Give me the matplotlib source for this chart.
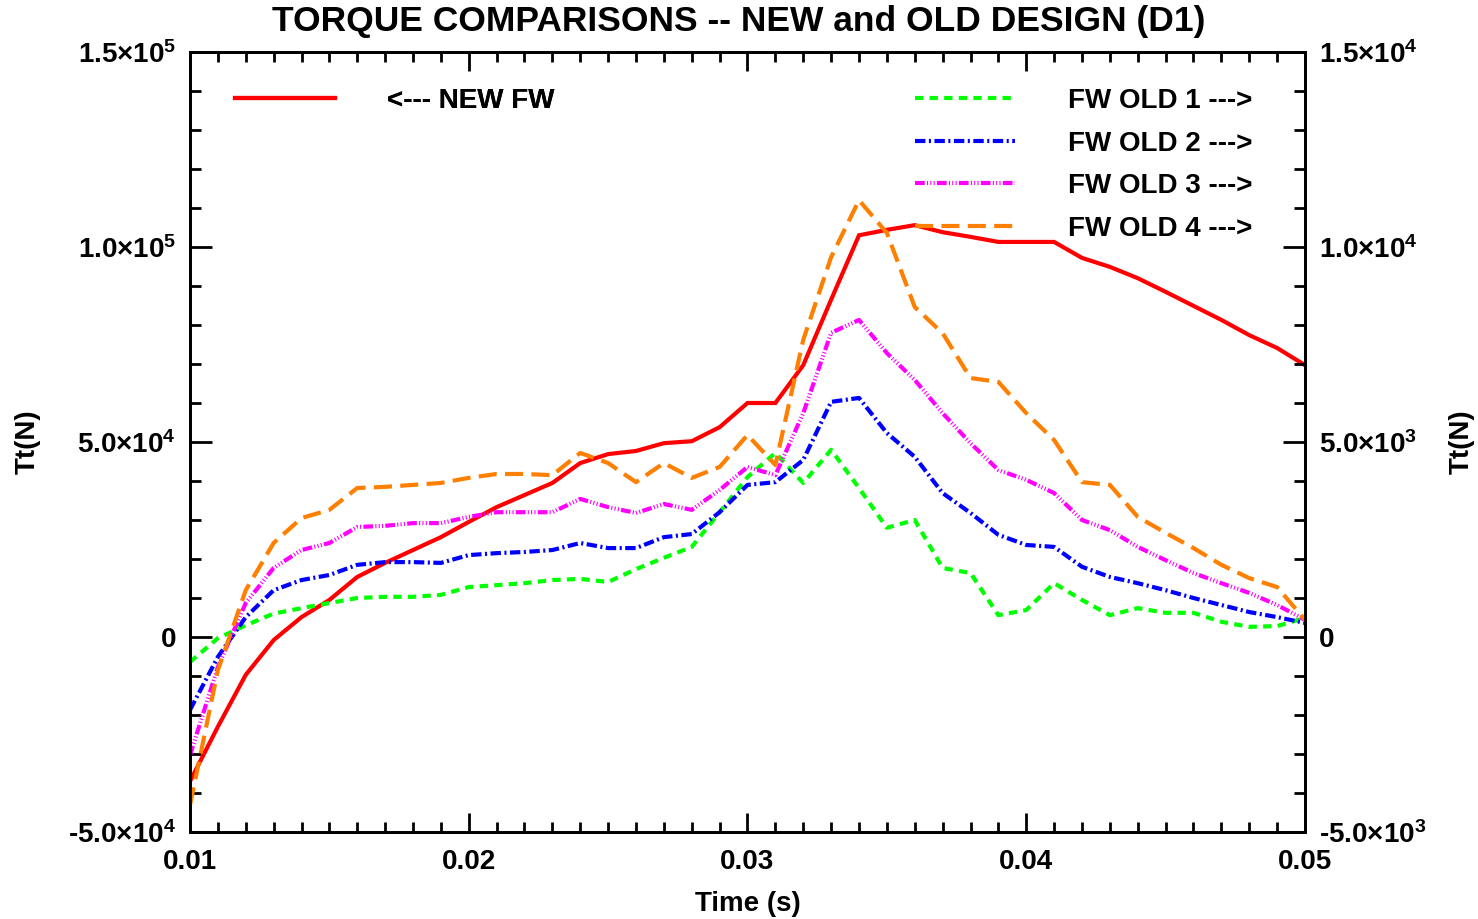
import matplotlib
matplotlib.use("Agg")
import matplotlib.pyplot as plt
from matplotlib.ticker import FixedLocator, MultipleLocator, FixedFormatter

plt.rcParams['font.family'] = ['Liberation Sans', 'DejaVu Sans']
plt.rcParams['font.weight'] = 'bold'
plt.rcParams['mathtext.default'] = 'regular'
plt.rcParams['lines.scale_dashes'] = False

# ---- data ----
time_s = [0.010, 0.011, 0.012, 0.013, 0.014, 0.015, 0.016, 0.017, 0.018, 0.019,
          0.020, 0.021, 0.022, 0.023, 0.024, 0.025, 0.026, 0.027, 0.028, 0.029,
          0.030, 0.031, 0.032, 0.033, 0.034, 0.035, 0.036, 0.037, 0.038, 0.039,
          0.040, 0.041, 0.042, 0.043, 0.044, 0.045, 0.046, 0.047, 0.048, 0.049,
          0.050]

new_fw = [-37000, -23000, -9700, -800, 5100, 9500, 15400, 19000, 22300, 25600,
          29500, 33300, 36400, 39500, 44600, 46900, 47700, 49700, 50200, 53800,
          60000, 60000, 69700, 86500, 103000, 104400, 105600, 103800, 102600, 101300,
          101300, 101300, 97200, 94900, 92000, 88500, 84900, 81300, 77400, 74100,
          69700]

fw_old1 = [-640, -30, 300, 600, 740, 870, 1000, 1030, 1030, 1080,
           1280, 1330, 1380, 1460, 1490, 1410, 1740, 2030, 2310, 3200,
           4100, 4720, 3950, 4800, 3820, 2800, 3000, 1770, 1640, 560,
           690, 1380, 950, 560, 740, 620, 620, 390, 260, 280,
           490]

fw_old2 = [-1870, -510, 510, 1200, 1460, 1590, 1850, 1920, 1920, 1900,
           2100, 2150, 2180, 2230, 2410, 2280, 2280, 2560, 2640, 3200,
           3900, 3970, 4540, 6030, 6130, 5230, 4620, 3690, 3180, 2620,
           2360, 2310, 1800, 1540, 1380, 1200, 1000, 820, 640, 510,
           360]

fw_old3 = [-3030, -770, 870, 1770, 2230, 2410, 2820, 2850, 2920, 2920,
           3080, 3200, 3200, 3200, 3540, 3330, 3180, 3410, 3260, 3770,
           4360, 4150, 5740, 7800, 8130, 7280, 6590, 5740, 4970, 4280,
           4030, 3690, 3000, 2740, 2310, 1970, 1640, 1380, 1130, 820,
           440]

fw_old4 = [-4310, -850, 1200, 2410, 3050, 3260, 3820, 3850, 3900, 3950,
           4080, 4180, 4180, 4150, 4720, 4460, 3970, 4460, 4080, 4360,
           5180, 4410, 7620, 9740, 11200, 10360, 8460, 7790, 6640, 6540,
           5740, 5050, 3970, 3900, 3080, 2670, 2280, 1850, 1510, 1280,
           440]

x_ticks = [0.01, 0.02, 0.03, 0.04, 0.05]
x_ticklabels = ['0.01', '0.02', '0.03', '0.04', '0.05']
left_ticks = [-5e4, 0, 5e4, 1e5, 1.5e5]
left_ticklabels = ['-5.0\u00d710$^{4}$', '0', '5.0\u00d710$^{4}$', '1.0\u00d710$^{5}$', '1.5\u00d710$^{5}$']
right_ticks = [-5e3, 0, 5e3, 1e4, 1.5e4]
right_ticklabels = ['-5.0\u00d710$^{3}$', '0', '5.0\u00d710$^{3}$', '1.0\u00d710$^{4}$', '1.5\u00d710$^{4}$']

title = 'TORQUE COMPARISONS -- NEW and OLD DESIGN (D1)'
labels_new = ['<--- NEW FW']
labels_old = ['FW OLD 1 --->', 'FW OLD 2 --->', 'FW OLD 3 --->', 'FW OLD 4 --->']

# ---- figure ----
fig = plt.figure(figsize=(14.78, 9.19), dpi=100)
ax = fig.add_axes([190/1478, 1-832/919, 1115/1478, 780/919])
ax2 = ax.twinx()

LW = 3.0
FS = 20
red = '#ff0000'
green = '#00ff00'
blue = '#0000ff'
magenta = '#ff00ff'
orange = '#ff7f00'

st_green = (0, (6.0, 4.5))
st_blue = (0, (7.5, 2.5, 1.5, 2.5))
st_mag = (0, (7.0, 1.6, 0.8, 1.6, 0.8, 1.6, 0.8, 1.6))
st_orange = (0, (13, 6))

l_new, = ax.plot(time_s, new_fw, color=red, lw=LW, solid_joinstyle='miter')
l1, = ax2.plot(time_s, fw_old1, color=green, lw=LW, linestyle=st_green)
l2, = ax2.plot(time_s, fw_old2, color=blue, lw=LW, linestyle=st_blue)
l3, = ax2.plot(time_s, fw_old3, color=magenta, lw=LW, linestyle=st_mag)
l4, = ax2.plot(time_s, fw_old4, color=orange, lw=LW, linestyle=st_orange)

ax.set_xlim(0.01, 0.05)
ax.set_ylim(-5e4, 1.5e5)
ax2.set_ylim(-5e3, 1.5e4)

ax.xaxis.set_major_locator(FixedLocator(x_ticks))
ax.xaxis.set_major_formatter(FixedFormatter(x_ticklabels))
ax.xaxis.set_minor_locator(MultipleLocator(0.001))
ax.yaxis.set_major_locator(FixedLocator(left_ticks))
ax.yaxis.set_major_formatter(FixedFormatter(left_ticklabels))
ax.yaxis.set_minor_locator(MultipleLocator(1e4))
ax2.yaxis.set_major_locator(FixedLocator(right_ticks))
ax2.yaxis.set_major_formatter(FixedFormatter(right_ticklabels))
ax2.yaxis.set_minor_locator(MultipleLocator(1e3))

ax.tick_params(axis='x', which='both', direction='in', top=True, bottom=True,
               labelsize=FS, width=2, pad=12)
ax.tick_params(axis='x', which='major', length=14)
ax.tick_params(axis='x', which='minor', length=7)
ax.tick_params(axis='y', which='both', direction='in', left=True, right=False,
               labelsize=FS, width=2, pad=10)
ax.tick_params(axis='y', which='major', length=16)
ax.tick_params(axis='y', which='minor', length=8)
ax2.tick_params(axis='y', which='both', direction='in', right=True,
                labelsize=FS, width=2, pad=10)
ax2.tick_params(axis='y', which='major', length=16)
ax2.tick_params(axis='y', which='minor', length=8)

for a in (ax, ax2):
    for s in a.spines.values():
        s.set_linewidth(2)
    for lab in a.get_xticklabels() + a.get_yticklabels():
        lab.set_fontweight('bold')

ax.set_xlabel('Time (s)', fontsize=FS, fontweight='bold', labelpad=12)
ax.set_ylabel('Tt(N)', fontsize=FS, fontweight='bold', labelpad=20)
ax2.set_ylabel('Tt(N)', fontsize=FS, fontweight='bold', rotation=90, labelpad=16)
fig.text(0.5, 1-22/919, title, ha='center', va='center', fontsize=25.5, fontweight='bold')

leg1 = ax.legend([l_new], labels_new, loc='upper left', bbox_to_anchor=(0.040, 0.954),
                 frameon=False, handlelength=3.6, handletextpad=1.9,
                 borderpad=0, borderaxespad=0, labelspacing=0.6,
                 prop={'weight': 'bold', 'size': FS})
ax.add_artist(leg1)
ax2.legend([l1, l2, l3, l4], labels_old, loc='upper left', bbox_to_anchor=(0.650, 0.954),
           frameon=False, handlelength=3.6, handletextpad=1.9,
           borderpad=0, borderaxespad=0, labelspacing=0.6,
           prop={'weight': 'bold', 'size': FS})

fig.savefig('out.png', dpi=100)
